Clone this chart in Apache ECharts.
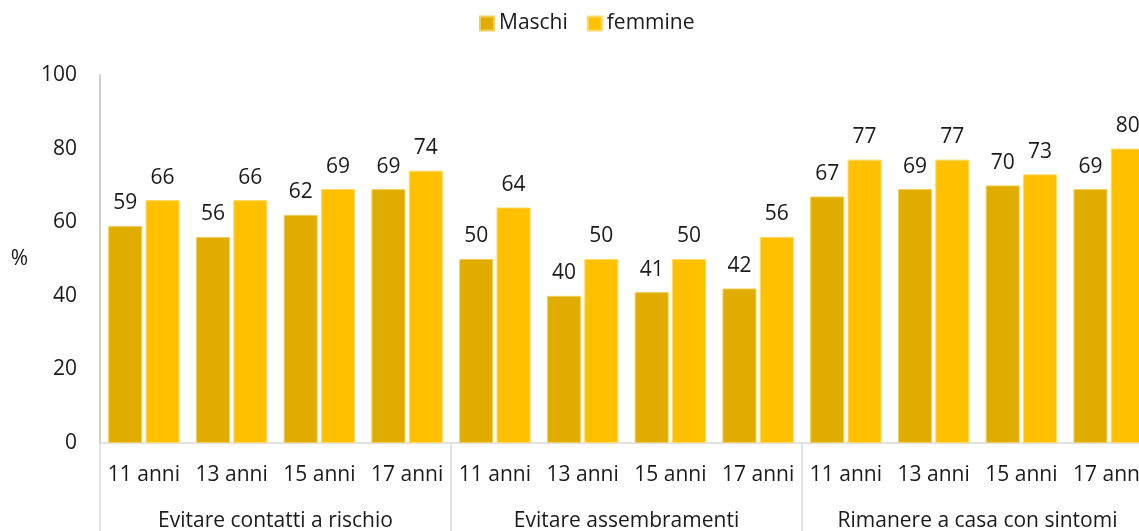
<!DOCTYPE html>
<html>
<head>
<meta charset="utf-8">
<script src="https://cdn.jsdelivr.net/npm/echarts@6/dist/echarts.min.js"></script>
<style>
  html, body { margin: 0; padding: 0; background: #fff; overflow: hidden; }
  /* the plot runs a little past the right edge of the window */
  #chart { width: 1153px; height: 531px; }
</style>
</head>
<body>
<div id="chart"></div>
<script>
// Età per ciascun gruppo di comportamenti
const ages = ['11 anni', '13 anni', '15 anni', '17 anni'];
const groups = ['Evitare contatti a rischio', 'Evitare assembramenti', 'Rimanere a casa con sintomi'];

// Percentuali (%) per sesso, nell'ordine gruppo × età
const maschi  = [59, 56, 62, 69,  50, 40, 41, 42,  67, 69, 70, 69];
const femmine = [66, 66, 69, 74,  64, 50, 50, 56,  77, 77, 73, 80];

const yTicks = [0, 20, 40, 60, 80, 100];

const FONT = '"Open Sans", Lato, sans-serif';
const TEXT = '#1a1a1a';
const FS = 21;

const categories = [];
groups.forEach(() => ages.forEach(a => categories.push(a)));

const chart = echarts.init(document.getElementById('chart'), null, { renderer: 'canvas' });

const labelOpt = {
  show: true,
  position: 'top',
  distance: 12,
  color: TEXT,
  fontFamily: FONT,
  fontSize: FS
};

chart.setOption({
  animation: false,
  textStyle: { fontFamily: FONT },
  legend: {
    left: 474,
    top: 8,
    itemWidth: 14,
    itemHeight: 14,
    itemGap: 19,
    icon: 'rect',
    textStyle: { color: TEXT, fontSize: FS, fontFamily: FONT },
    data: ['Maschi', 'femmine']
  },
  grid: { left: 100, right: 0, top: 75, bottom: 88, containLabel: false, outerBoundsMode: 'none' },
  xAxis: [
    {
      type: 'category',
      data: categories,
      position: 'bottom',
      axisLine: { show: true, lineStyle: { color: '#d9d9d9', width: 1.5 } },
      axisTick: { show: false },
      axisLabel: { interval: 0, margin: 22, color: TEXT, fontSize: FS, fontFamily: FONT }
    },
    {
      type: 'category',
      data: groups,
      position: 'bottom',
      axisLine: { show: false },
      axisTick: { show: true, interval: 0, length: 95, lineStyle: { color: '#d9d9d9', width: 1.5 } },
      axisLabel: { interval: 0, margin: 68, color: TEXT, fontSize: FS, fontFamily: FONT }
    }
  ],
  yAxis: {
    type: 'value',
    min: yTicks[0],
    max: yTicks[yTicks.length - 1],
    interval: 20,
    name: '%',
    nameLocation: 'middle',
    nameRotate: 0,
    nameGap: 72,
    nameTextStyle: { color: TEXT, fontSize: FS, fontFamily: FONT },
    axisLine: { show: true, lineStyle: { color: '#bfbfbf', width: 1.5 } },
    axisTick: { show: false },
    splitLine: { show: false },
    axisLabel: { margin: 23, color: TEXT, fontSize: FS, fontFamily: FONT }
  },
  series: [
    {
      name: 'Maschi',
      type: 'bar',
      xAxisIndex: 0,
      data: maschi,
      barWidth: 34,
      barGap: '10%',
      itemStyle: { color: '#e0ac00', borderColor: '#efcf5c', borderWidth: 1 },
      label: labelOpt
    },
    {
      name: 'femmine',
      type: 'bar',
      xAxisIndex: 0,
      data: femmine,
      barWidth: 34,
      barGap: '10%',
      itemStyle: { color: '#ffc000', borderColor: '#ffd966', borderWidth: 1 },
      label: labelOpt
    }
  ]
});
</script>
</body>
</html>
